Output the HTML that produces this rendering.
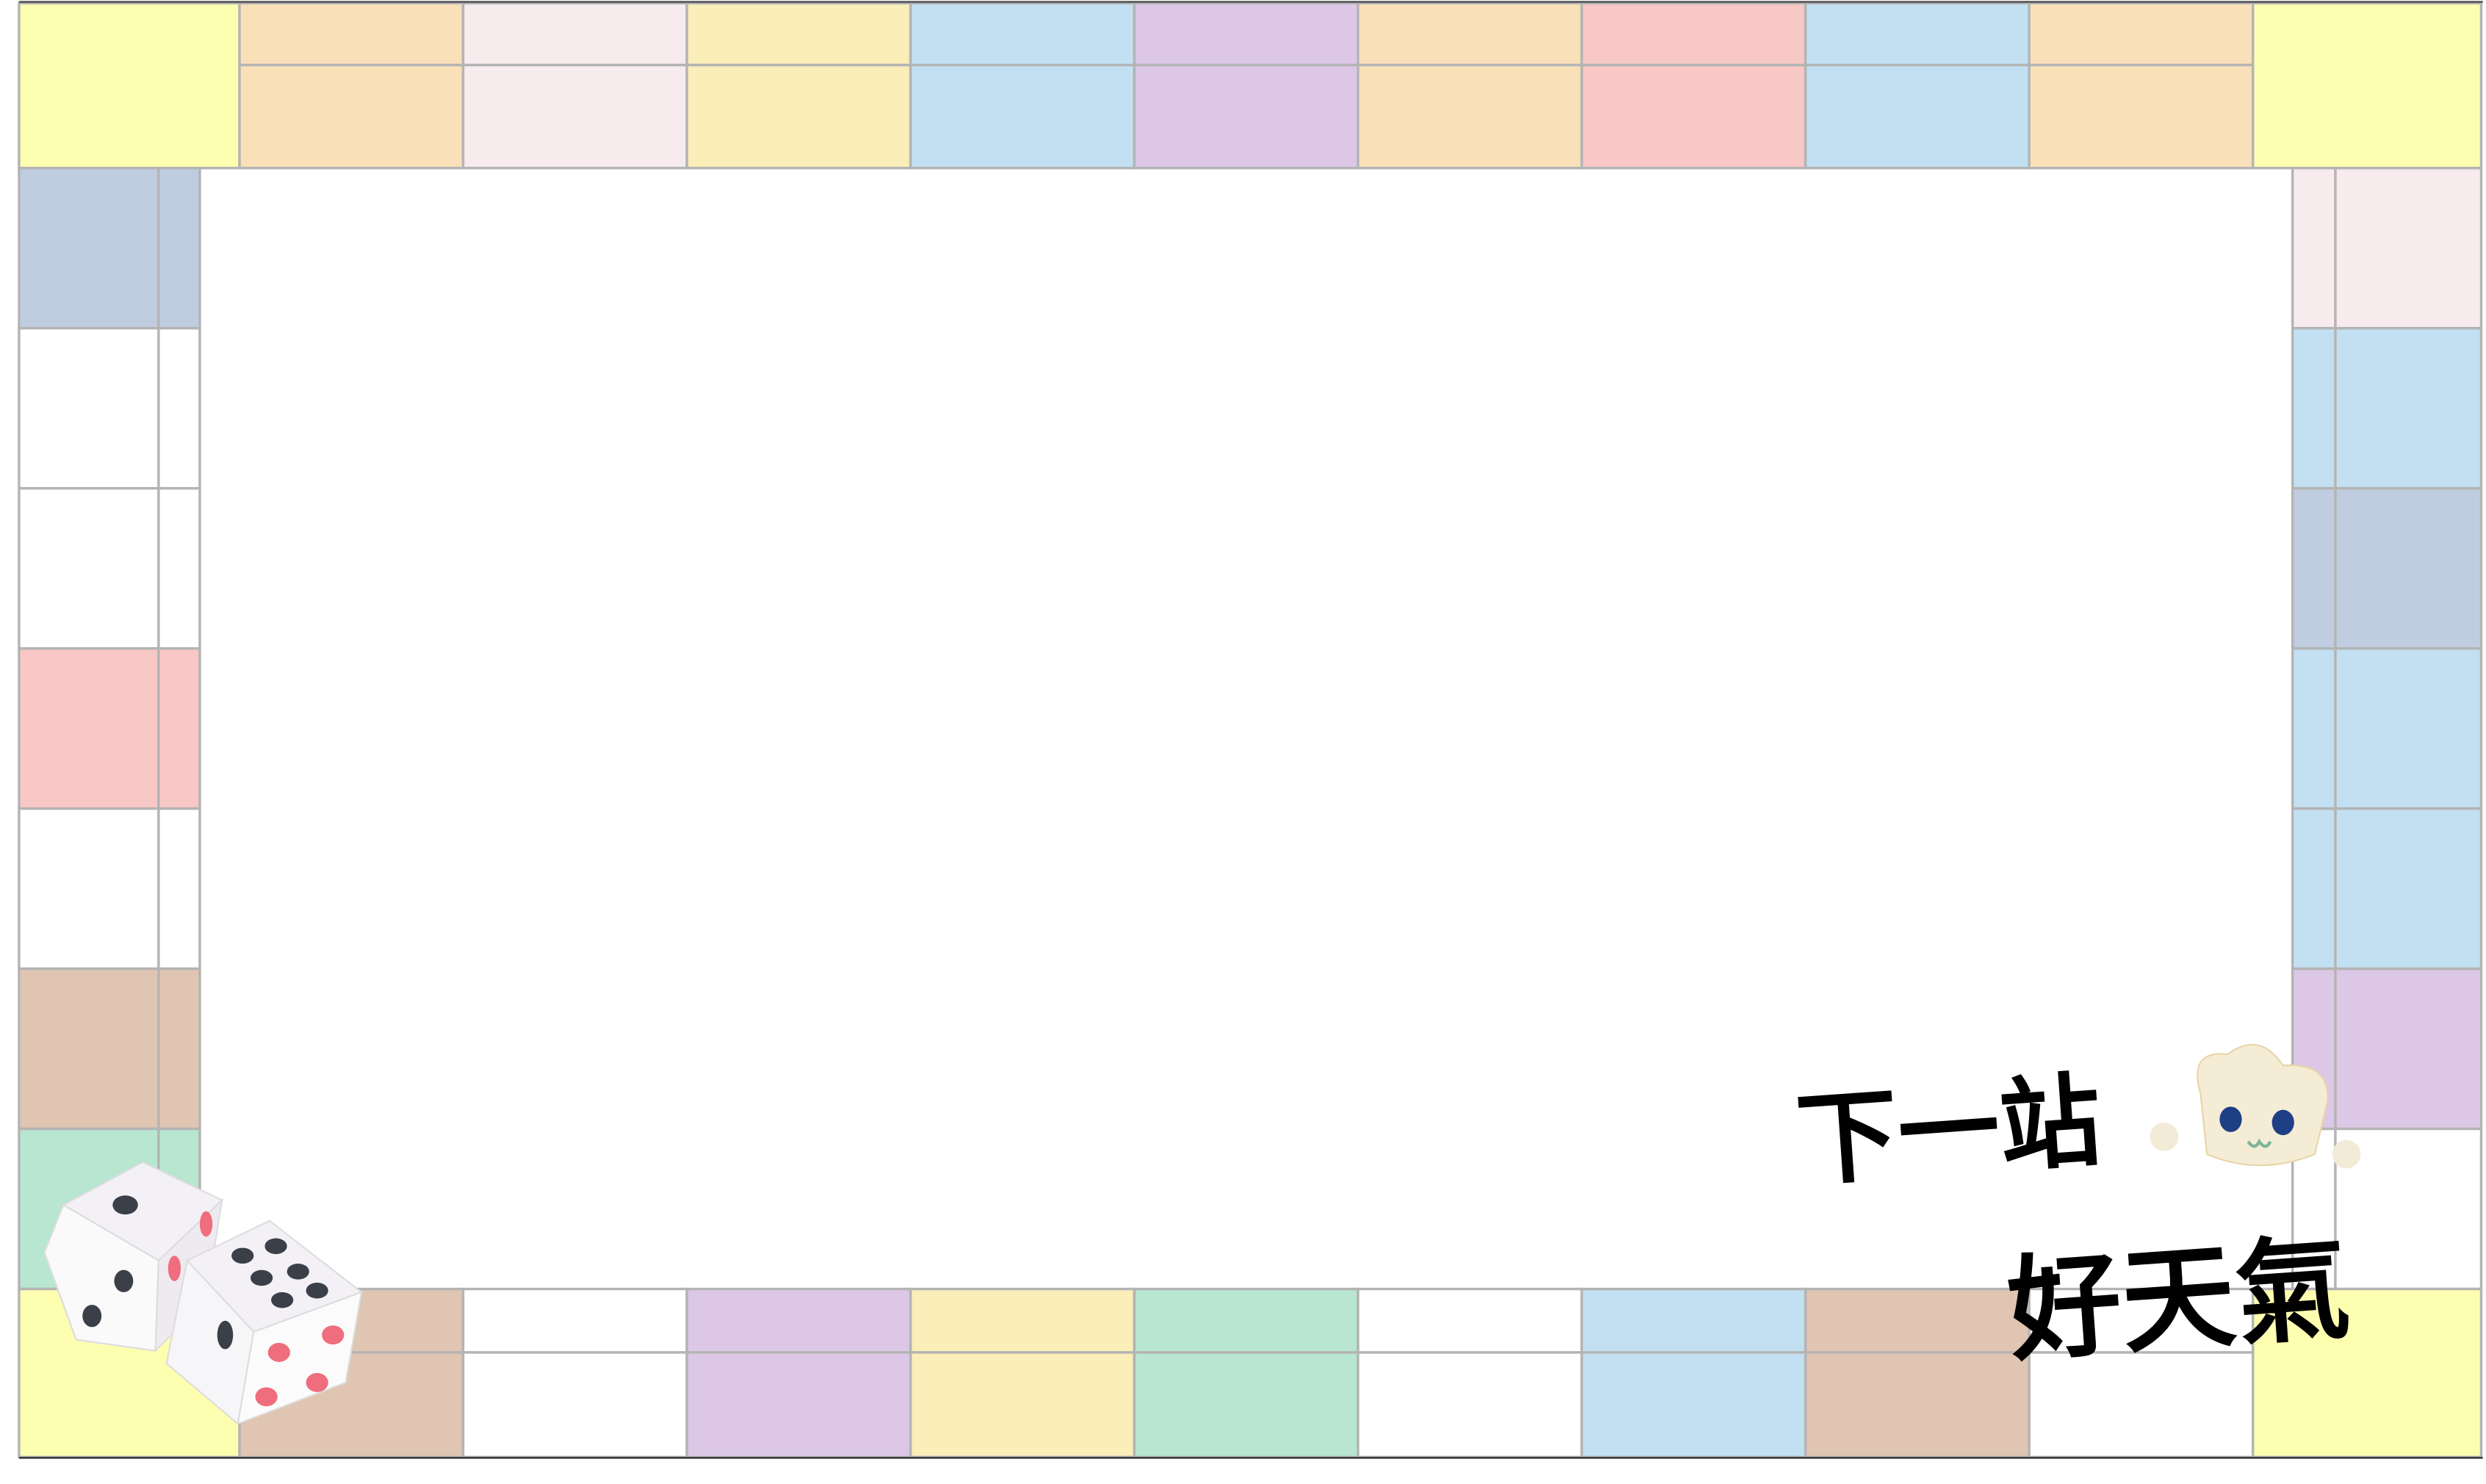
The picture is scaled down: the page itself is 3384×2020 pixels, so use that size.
<!DOCTYPE html>
<html><head><meta charset="utf-8"><style>
html,body{margin:0;padding:0;background:#fff;}
svg{display:block;}
</style></head><body>
<svg id="board" width="3384" height="2020" viewBox="0 0 1568 936" xmlns="http://www.w3.org/2000/svg">
<rect width="1568" height="936" fill="#fff"/>
<g id="cells"></g>
<line x1="12" y1="1.2" x2="1566" y2="1.2" stroke="#555" stroke-width="1.2"/>
<line x1="12" y1="919.5" x2="1566" y2="919.5" stroke="#333" stroke-width="1.2"/>
<g>
 <g>
  <polygon points="40,760 90,733 140,757 100,795 " fill="#f3f1f6" stroke="#ddd" stroke-width="1"/>
  <polygon points="40,760 100,795 98,852 48,845 28,790" fill="#fafafa" stroke="#ddd" stroke-width="1"/>
  <polygon points="100,795 140,757 130,820 98,852" fill="#eeeaf0" stroke="#ddd" stroke-width="1"/>
  <ellipse cx="79" cy="760" rx="8" ry="6" fill="#3a3f48"/>
  <ellipse cx="78" cy="808" rx="6" ry="7" fill="#3a3f48"/>
  <ellipse cx="58" cy="830" rx="6" ry="7" fill="#3a3f48"/>
  <ellipse cx="130" cy="772" rx="4" ry="8" fill="#ef6d7d"/>
  <ellipse cx="110" cy="800" rx="4" ry="8" fill="#ef6d7d"/>
 </g>
 <g>
  <polygon points="118,795 170,770 228,815 160,840" fill="#f3f1f6" stroke="#ddd" stroke-width="1"/>
  <polygon points="118,795 160,840 150,898 105,860" fill="#f6f6f8" stroke="#ddd" stroke-width="1"/>
  <polygon points="160,840 228,815 218,872 150,898" fill="#fbfbfb" stroke="#ddd" stroke-width="1"/>
  <ellipse cx="153" cy="792" rx="7" ry="5" fill="#3a3f48"/>
  <ellipse cx="174" cy="786" rx="7" ry="5" fill="#3a3f48"/>
  <ellipse cx="165" cy="806" rx="7" ry="5" fill="#3a3f48"/>
  <ellipse cx="188" cy="802" rx="7" ry="5" fill="#3a3f48"/>
  <ellipse cx="178" cy="820" rx="7" ry="5" fill="#3a3f48"/>
  <ellipse cx="200" cy="814" rx="7" ry="5" fill="#3a3f48"/>
  <ellipse cx="142" cy="842" rx="5" ry="9" fill="#3a3f48"/>
  <ellipse cx="176" cy="853" rx="7" ry="6" fill="#ef6d7d"/>
  <ellipse cx="210" cy="842" rx="7" ry="6" fill="#ef6d7d"/>
  <ellipse cx="168" cy="881" rx="7" ry="6" fill="#ef6d7d"/>
  <ellipse cx="200" cy="872" rx="7" ry="6" fill="#ef6d7d"/>
 </g>
</g>
<g>
 <circle cx="1365" cy="717" r="9" fill="#f3ead8"/>
 <circle cx="1480" cy="728" r="9" fill="#f3ead8"/>
 <path d="M1388,690 Q1380,662 1405,665 Q1425,650 1440,672 Q1470,670 1468,695 L1460,728 Q1425,742 1392,728 Z" fill="#f5ecd6" stroke="#e8d5a8" stroke-width="1"/>
 <ellipse cx="1407" cy="706" rx="7" ry="8" fill="#1e3f86"/>
 <ellipse cx="1440" cy="708" rx="7" ry="8" fill="#1e3f86"/>
 <path d="M1418,720 q4,6 7,0 q4,6 7,0" fill="none" stroke="#7fb59a" stroke-width="2"/>
</g>
<text x="1135" y="742" font-family="'WenQuanYi Zen Hei','Noto Sans CJK TC',sans-serif" font-size="64" fill="#000" stroke="#000" stroke-width="2" transform="rotate(-4 1135 742)">下一站</text>
<text x="1268" y="852" font-family="'WenQuanYi Zen Hei','Noto Sans CJK TC',sans-serif" font-size="72" fill="#000" stroke="#000" stroke-width="2" transform="rotate(-4 1268 852)">好天氣</text>
</svg>
<script>
const G='#b4b4b4';
const C={y:'#fefeb0',o:'#f9e0b9',p:'#f7ebee',l:'#faeeb9',b:'#c2e0f2',v:'#dcc8e6',s:'#f7c8c6',g:'#c0cce0',t:'#e0c5b3',m:'#b8e6d0',w:'#ffffff'};
const topCells=['o','p','l','b','v','o','s','b','o'];
const bottomCells=['t','w','v','l','m','w','b','t','w'];
const leftCells=['g','w','w','s','w','t','m'];
const rightCells=['p','b','g','b','b','v','w'];
const g=document.getElementById('cells');
const NS='http://www.w3.org/2000/svg';
function R(x,y,w,h,f,name){const r=document.createElementNS(NS,'rect');r.setAttribute('x',x);r.setAttribute('y',y);r.setAttribute('width',w);r.setAttribute('height',h);r.setAttribute('fill',f);r.setAttribute('stroke',G);r.setAttribute('stroke-width','1.6');


g.appendChild(r);}
function L(x1,y1,x2,y2){const l=document.createElementNS(NS,'line');l.setAttribute('x1',x1);l.setAttribute('y1',y1);l.setAttribute('x2',x2);l.setAttribute('y2',y2);l.setAttribute('stroke',G);l.setAttribute('stroke-width','1.6');


g.appendChild(l);}
const cw=(1421-151)/9;
topCells.forEach((c,i)=>{const x=151+i*cw;R(x,2,cw,104,C[c],'top-cell-'+(i+1));L(x,41,x+cw,41);});
bottomCells.forEach((c,i)=>{const x=151+i*cw;R(x,813,cw,106,C[c],'bottom-cell-'+(i+1));L(x,853,x+cw,853);});
const rh=(813-106)/7;
leftCells.forEach((c,i)=>{const y=106+i*rh;R(12,y,114,rh,C[c],'left-cell-'+(i+1));L(100,y,100,y+rh);});
rightCells.forEach((c,i)=>{const y=106+i*rh;R(1446,y,119,rh,C[c],'right-cell-'+(i+1));L(1473,y,1473,y+rh);});
R(12,2,139,104,C.y,'corner-top-left');
R(1421,2,144,104,C.y,'corner-top-right');
R(12,813,139,106,C.y,'corner-bottom-left');
R(1421,813,144,106,C.y,'corner-bottom-right');
</script>
</body></html>
